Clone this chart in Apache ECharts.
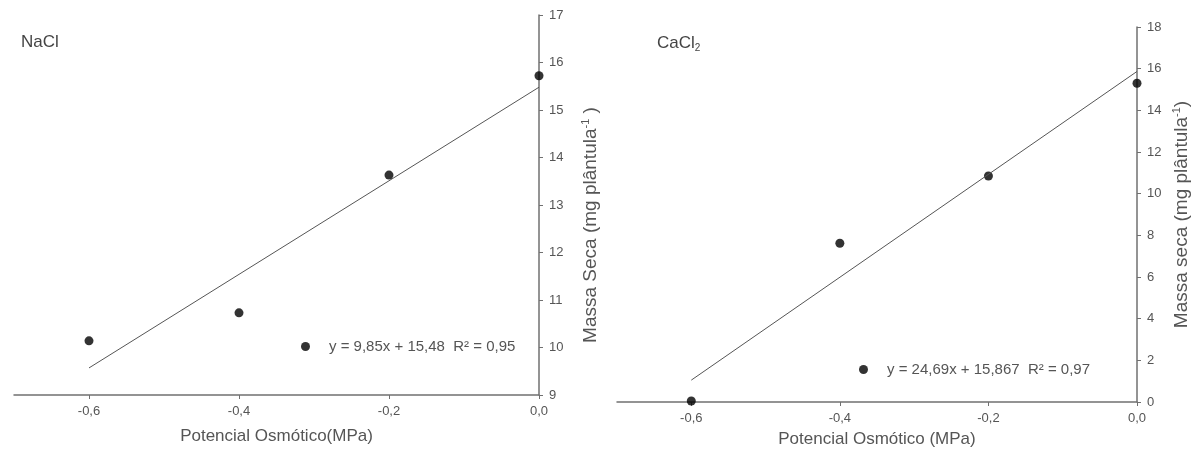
<!DOCTYPE html>
<html>
<head>
<meta charset="utf-8">
<script src="https://cdn.jsdelivr.net/npm/echarts@6/dist/echarts.min.js"></script>
<style>
html,body{margin:0;padding:0;background:#fff;}
#chart{width:1192px;height:461px;}
</style>
</head>
<body>
<div id="chart"></div>
<script>
// Data
const potencial = [-0.6, -0.4, -0.2, 0.0];
const xTickValues = [-0.6, -0.4, -0.2, 0.0];
const naclMassa = [10.14, 10.73, 13.63, 15.72];
const cacl2Massa = [0.05, 7.62, 10.85, 15.3];
// regression line endpoints (at x = -0.6 and x = 0)
const trendX = [-0.6, 0.0];
const naclTrend = [9.57, 15.48];
const cacl2Trend = [1.05, 15.867];
const naclEq = 'y = 9,85x + 15,48  R² = 0,95';
const cacl2Eq = 'y = 24,69x + 15,867  R² = 0,97';

const pairs = (xs, ys) => xs.map((x, i) => [x, ys[i]]);
const FONT = 'Arial, "Liberation Sans", sans-serif';
const axisColor = '#707070';
const textColor = '#555';

function xAxisCfg(gridIndex, name, nameGap) {
  return {
    gridIndex, type: 'value', min: -0.7, max: 0,
    axisLine: { show: true, onZero: false, lineStyle: { color: axisColor, width: 1.5 } },
    axisTick: { show: true, customValues: xTickValues, length: 4, lineStyle: { color: axisColor } },
    axisLabel: { customValues: xTickValues, color: textColor, fontSize: 13, margin: 10,
      formatter: v => v.toFixed(1).replace('.', ',') },
    splitLine: { show: false },
    name, nameLocation: 'middle', nameGap,
    nameTextStyle: { color: textColor, fontSize: 17 }
  };
}
function yAxisCfg(gridIndex, min, max, interval, name, nameGap, pad) {
  return {
    gridIndex, type: 'value', position: 'right', min, max, interval,
    axisLine: { show: true, onZero: false, lineStyle: { color: axisColor, width: 1.5 } },
    axisTick: { show: true, length: 4, lineStyle: { color: axisColor } },
    axisLabel: { color: textColor, fontSize: 13, margin: 10 },
    splitLine: { show: false },
    name, nameLocation: 'middle', nameGap,
    nameTextStyle: { color: textColor, fontSize: 19, padding: pad,
      rich: { sup: { fontSize: 11, color: textColor, padding: [0, 0, 10, 0] } } }
  };
}

const chart = echarts.init(document.getElementById('chart'));
chart.setOption({
  animation: false,
  textStyle: { fontFamily: FONT },
  title: [
    { text: 'NaCl', left: 21, top: 34, padding: 0, textStyle: { fontSize: 17, fontWeight: 'normal', color: '#444' } },
    { text: 'CaCl{sub|2}', left: 657, top: 34, padding: 0, textStyle: { fontSize: 17, fontWeight: 'normal', color: '#444',
      rich: { sub: { fontSize: 10, color: '#444', padding: [9, 0, 0, 0] } } } }
  ],
  legend: [
    { data: [naclEq], left: 301, top: 339, padding: 0, itemWidth: 9, itemHeight: 9, icon: 'circle',
      textStyle: { fontSize: 15, color: textColor, padding: [0, 0, 0, 14] } },
    { data: [cacl2Eq], left: 859, top: 362, padding: 0, itemWidth: 9, itemHeight: 9, icon: 'circle',
      textStyle: { fontSize: 15, color: textColor, padding: [0, 0, 0, 14] } }
  ],
  grid: [
    { left: 14, right: 653, top: 15, bottom: 66 },
    { left: 617, right: 53, top: 27, bottom: 59 }
  ],
  xAxis: [
    xAxisCfg(0, 'Potencial Osmótico(MPa)', 33),
    xAxisCfg(1, 'Potencial Osmótico (MPa)', 29)
  ],
  yAxis: [
    yAxisCfg(0, 9, 17, 1, 'Massa Seca (mg plântula{sup|-1} )', 41, [0, 40, 0, 0]),
    yAxisCfg(1, 0, 18, 2, 'Massa seca (mg plântula{sup|-1})', 34, [0, 0, 0, 0])
  ],
  series: [
    { type: 'line', xAxisIndex: 0, yAxisIndex: 0, data: pairs(trendX, naclTrend), symbol: 'none',
      lineStyle: { color: '#555', width: 1 }, silent: true },
    { type: 'scatter', name: naclEq, xAxisIndex: 0, yAxisIndex: 0, data: pairs(potencial, naclMassa),
      symbolSize: 9, itemStyle: { color: '#000' } },
    { type: 'line', xAxisIndex: 1, yAxisIndex: 1, data: pairs(trendX, cacl2Trend), symbol: 'none',
      lineStyle: { color: '#555', width: 1 }, silent: true },
    { type: 'scatter', name: cacl2Eq, xAxisIndex: 1, yAxisIndex: 1, data: pairs(potencial, cacl2Massa),
      symbolSize: 9, itemStyle: { color: '#000' } }
  ]
});
</script>
</body>
</html>
